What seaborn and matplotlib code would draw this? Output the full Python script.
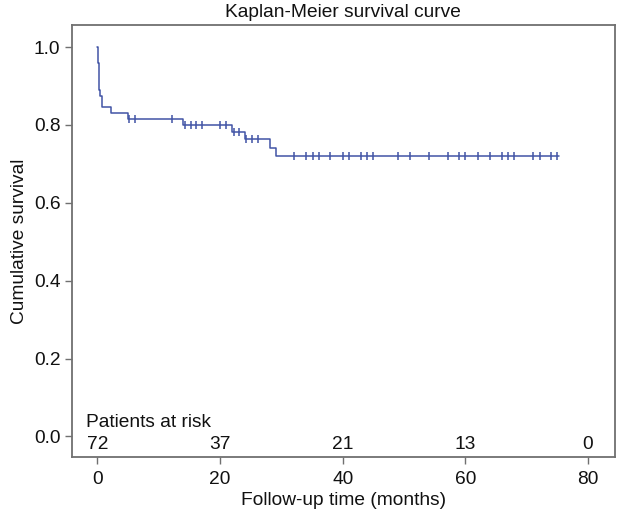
import numpy as np
import pandas as pd
import matplotlib
matplotlib.use('Agg')
import matplotlib.pyplot as plt
import seaborn as sns

# Kaplan-Meier step curve
step_times = [0.0, 0.15, 0.3, 0.5, 0.7, 2.2, 5.0, 14.0, 22.0, 24.0, 28.2, 29.1, 75.3]
step_surv = [1.0, 0.96, 0.89, 0.875, 0.845, 0.830, 0.815, 0.800, 0.782, 0.763, 0.742, 0.721, 0.721]

# censored observations (tick marks)
censor_times = [5.2, 6.1, 12.2, 14.3, 15.2, 16.1, 17.0, 20.0, 21.0, 22.3, 23.1,
                24.3, 25.3, 26.2, 32.1, 34.1, 35.1, 36.1, 38.0, 40.0, 41.0, 43.0,
                44.0, 45.0, 49.0, 51.0, 54.0, 57.1, 59.0, 60.0, 62.0, 64.0, 66.0,
                67.0, 68.0, 71.1, 72.1, 73.9, 74.9]

# number at risk table
risk_times = [0, 20, 40, 60, 80]
risk_counts = [72, 37, 21, 13, 0]

LINE_COLOR = '#4154a5'
FRAME_COLOR = '#707070'
TEXT_COLOR = '#111111'
FS = 13.75

sns.set_theme(style='white')
plt.rcParams['font.family'] = ['Liberation Sans', 'DejaVu Sans']

curve = pd.DataFrame({'time': step_times, 'surv': step_surv})
idx = np.searchsorted(step_times, censor_times, side='right') - 1
censored = pd.DataFrame({'time': censor_times, 'surv': np.array(step_surv)[idx]})

fig = plt.figure(figsize=(6.18, 5.17), dpi=100)
ax = fig.add_axes([0.1157, 0.1161, 0.8795, 0.8356])

sns.lineplot(data=curve, x='time', y='surv', drawstyle='steps-post',
             color=LINE_COLOR, linewidth=1.1, ax=ax)
sns.scatterplot(data=censored, x='time', y='surv', marker='|', s=40,
                color=LINE_COLOR, linewidth=1.1, ax=ax)

ax.set_xlim(-4.2, 84.4)
ax.set_ylim(-0.053, 1.057)
ax.set_xticks([0, 20, 40, 60, 80])
ax.set_yticks([0.0, 0.2, 0.4, 0.6, 0.8, 1.0])
ax.set_yticklabels([f'{v:.1f}' for v in [0.0, 0.2, 0.4, 0.6, 0.8, 1.0]])

for side, spine in ax.spines.items():
    spine.set_color(FRAME_COLOR)
    spine.set_linewidth(1.3)
ax.tick_params(axis='both', direction='out', length=5, width=1, color=FRAME_COLOR,
               labelsize=FS, left=True, bottom=True, labelcolor=TEXT_COLOR)
ax.tick_params(axis='x', pad=5)
ax.tick_params(axis='y', pad=3)

ax.set_xlabel('Follow-up time (months)', fontsize=FS, color=TEXT_COLOR, labelpad=3)
ax.set_ylabel('Cumulative survival', fontsize=FS, color=TEXT_COLOR, labelpad=4)
ax.set_title('Kaplan-Meier survival curve', fontsize=FS, color=TEXT_COLOR, pad=6)

# patients at risk inside the plot area
ax.text(-1.8, 0.035, 'Patients at risk', fontsize=FS, color=TEXT_COLOR,
        ha='left', va='center')
for t, n in zip(risk_times, risk_counts):
    ax.text(t, -0.02, str(n), fontsize=FS, color=TEXT_COLOR, ha='center', va='center')

plt.savefig('out.png', dpi=100)
plt.close()
